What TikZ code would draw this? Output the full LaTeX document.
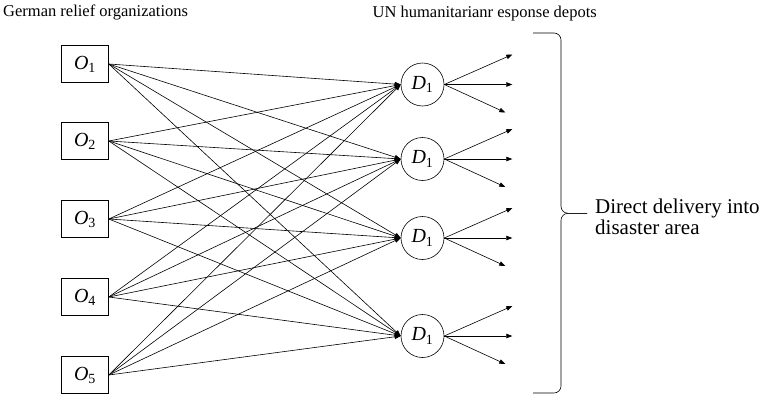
\documentclass[tikz,border=0pt]{standalone}
\usepackage{fontspec}
\setmainfont{Liberation Serif}
\usetikzlibrary{arrows.meta,positioning}

\begin{document}
\begin{tikzpicture}[x=10pt, y=-10pt,
  every node/.style={inner sep=0pt},
  org/.style={draw, line width=0.6pt, minimum width=47pt, minimum height=37pt,
              font=\fontsize{20}{24}\selectfont},
  depot/.style={draw, circle, line width=0.6pt, minimum size=43pt,
                font=\fontsize{20}{24}\selectfont},
  flow/.style={line width=0.6pt, -{Triangle[length=6pt,width=4.5pt]}},
  heading/.style={font=\fontsize{16.5}{20}\selectfont, anchor=base west},
  bracket/.style={line width=0.6pt, rounded corners=7pt}
]
\useasboundingbox (0,0) rectangle (76.2,39.9);

\node[heading] (orgtitle) at (0.3,1.68) {German relief organizations};
\node[heading] (depottitle) at (37.25,1.72) {UN humanitarianr esponse depots};

\node[org] (o1) at (8.5,6.4) {\textit{O}\textsubscript{1}};
\node[org] (o2) at (8.5,14.1) {\textit{O}\textsubscript{2}};
\node[org] (o3) at (8.5,21.9) {\textit{O}\textsubscript{3}};
\node[org] (o4) at (8.5,29.7) {\textit{O}\textsubscript{4}};
\node[org] (o5) at (8.5,37.5) {\textit{O}\textsubscript{5}};

\node[depot] (d1) at (42.25,8.45) {\textit{D}\textsubscript{1}};
\node[depot] (d2) at (42.25,15.9) {\textit{D}\textsubscript{1}};
\node[depot] (d3) at (42.25,23.8) {\textit{D}\textsubscript{1}};
\node[depot] (d4) at (42.25,33.6) {\textit{D}\textsubscript{1}};

% every organization supplies every depot
\foreach \i in {1,...,5}
  \foreach \j in {1,...,4}
    \draw[flow] (o\i.east) -- (d\j.west);

% deliveries out of the depots
\foreach \j in {1,...,4} {
  \path (d\j.east) ++(6.8,-3.0) coordinate (d\j-up)
        (d\j.east) ++(6.8,0) coordinate (d\j-mid)
        (d\j.east) ++(6.1,2.8) coordinate (d\j-low);
  \draw[flow] (d\j.east) -- (d\j-up);
  \draw[flow] (d\j.east) -- (d\j-mid);
  \draw[flow] (d\j.east) -- (d\j-low);
}

\coordinate (tip) at (58.7,21.33);
\draw[bracket] (53.3,3.3) -| (56.1,21.33) -- (tip);
\draw[bracket] (tip) -- (56.1,21.33) |- (53.3,39.3);
\node[anchor=west, align=left, font=\fontsize{21}{21}\selectfont]
  (area) at (59.5,21.7) {Direct delivery into\\disaster area};
\end{tikzpicture}
\end{document}
